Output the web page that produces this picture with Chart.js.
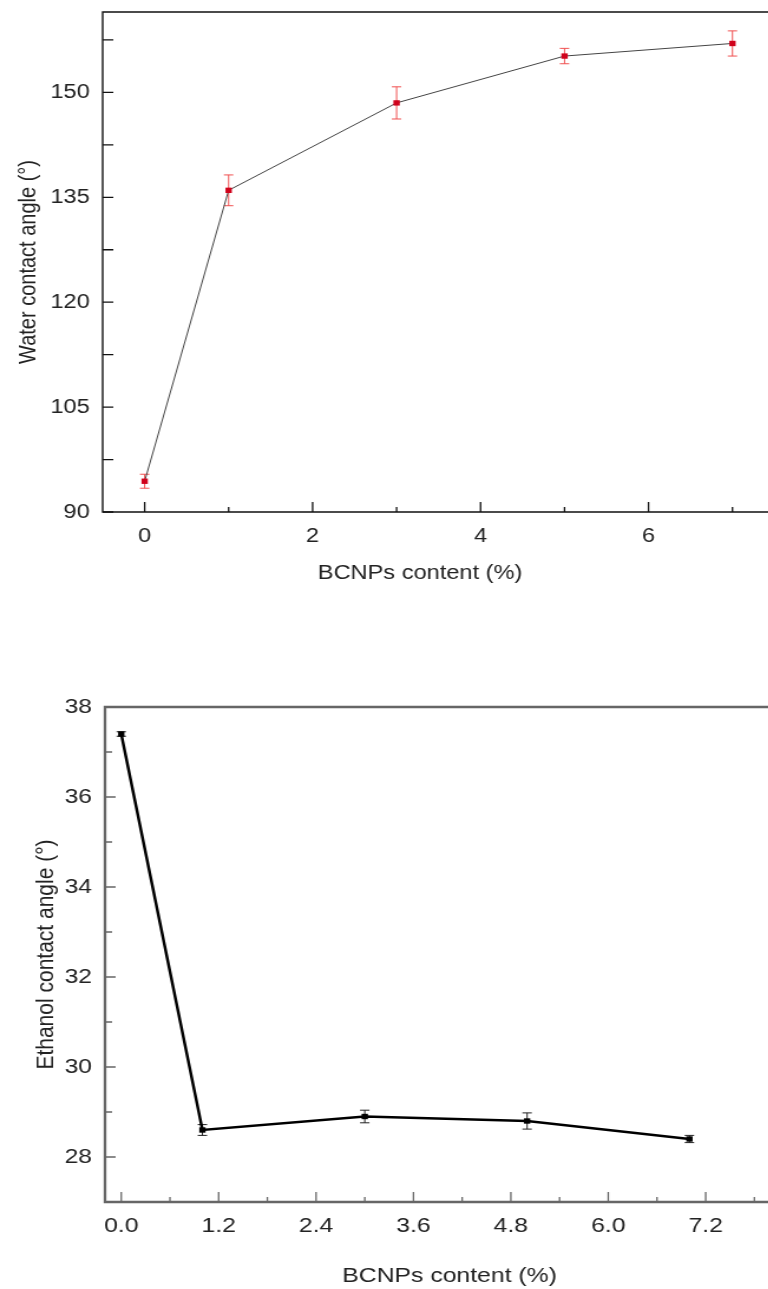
<!DOCTYPE html>
<html>
<head>
<meta charset="utf-8">
<script src="https://cdn.jsdelivr.net/npm/chart.js@4.4.0/dist/chart.umd.min.js"></script>
<style>
  html, body { margin: 0; padding: 0; background: #fff; overflow: hidden; }
  /* the source figure is stretched sideways, so the canvases are too */
  canvas { position: absolute; left: 0; transform: scaleX(1.18); transform-origin: 0 0; }
  #waterChart { top: 0; }
  #ethanolChart { top: 600px; }
</style>
</head>
<body>
<canvas id="waterChart" width="651" height="600"></canvas>
<!-- right part of the lower panel runs past the page edge, as in the source -->
<canvas id="ethanolChart" width="677" height="689"></canvas>
<script>
// BCNPs content (%)
var content = [0, 1, 3, 5, 7];

// top panel: water contact angle
var waterAngle = [94.4, 136.0, 148.5, 155.2, 157.0];
var waterError = [1.0, 2.2, 2.3, 1.1, 1.8];
var waterXTicks = [0, 1, 2, 3, 4, 5, 6, 7];
var waterYTicks = [90, 97.5, 105, 112.5, 120, 127.5, 135, 142.5, 150, 157.5];

// bottom panel: ethanol contact angle
var ethanolAngle = [37.4, 28.6, 28.9, 28.8, 28.4];
var ethanolError = [0.05, 0.12, 0.14, 0.18, 0.08];
var ethanolXTicks = [0, 0.6, 1.2, 1.8, 2.4, 3.0, 3.6, 4.2, 4.8, 5.4, 6.0, 6.6, 7.2, 7.8];
var ethanolYTicks = [27, 28, 29, 30, 31, 32, 33, 34, 35, 36, 37, 38];

var FONT = '"Liberation Sans", Arial, sans-serif';

function points(xs, ys) {
    return xs.map(function (x, i) { return { x: x, y: ys[i] }; });
}

// frame, inward ticks and error bars (one plugin per chart)
function framePlugin(o) {
    return {
        id: 'frame',
        beforeDatasetsDraw: function (chart) {
            var ctx = chart.ctx, xs = chart.scales.x, ys = chart.scales.y;
            ctx.save();
            ctx.strokeStyle = o.errColor;
            ctx.lineWidth = 1;
            o.errors.forEach(function (e, i) {
                var px = xs.getPixelForValue(content[i]);
                var top = ys.getPixelForValue(o.values[i] + e);
                var bot = ys.getPixelForValue(o.values[i] - e);
                ctx.beginPath();
                ctx.moveTo(px, top); ctx.lineTo(px, bot);
                ctx.moveTo(px - o.cap, top); ctx.lineTo(px + o.cap, top);
                ctx.moveTo(px - o.cap, bot); ctx.lineTo(px + o.cap, bot);
                ctx.stroke();
            });
            ctx.restore();
        },
        afterDraw: function (chart) {
            var ctx = chart.ctx, a = chart.chartArea;
            var xs = chart.scales.x, ys = chart.scales.y;
            ctx.save();
            ctx.strokeStyle = o.axisColor;
            ctx.lineWidth = o.axisWidth;
            ctx.beginPath();
            ctx.moveTo(chart.width, a.top);
            ctx.lineTo(a.left, a.top);
            ctx.lineTo(a.left, a.bottom);
            ctx.lineTo(chart.width, a.bottom);
            ctx.stroke();
            ctx.lineWidth = 1.3;
            ctx.beginPath();
            xs.ticks.forEach(function (t) {
                var px = xs.getPixelForValue(t.value);
                var len = o.majorX(t.value) ? 10 : 5;
                ctx.moveTo(px, a.bottom); ctx.lineTo(px, a.bottom - len);
            });
            ys.ticks.forEach(function (t) {
                var py = ys.getPixelForValue(t.value);
                var len = o.majorY(t.value) ? 9 : o.minorY;
                ctx.moveTo(a.left, py); ctx.lineTo(a.left + len, py);
            });
            ctx.stroke();
            ctx.restore();
        }
    };
}

function setTicks(list) {
    return function (scale) {
        scale.ticks = list.map(function (v) { return { value: v }; });
    };
}

function makeChart(id, cfg) {
    var ctx = document.getElementById(id).getContext('2d');
    return new Chart(ctx, {
        type: 'line',
        data: {
            datasets: [{
                data: points(content, cfg.values),
                borderColor: cfg.lineColor,
                borderWidth: cfg.lineWidth,
                backgroundColor: cfg.pointColor,
                pointBackgroundColor: cfg.pointColor,
                pointBorderColor: cfg.pointColor,
                pointStyle: 'rect',
                pointRadius: 3.8,
                pointBorderWidth: 0,
                tension: 0,
                fill: false,
                clip: false
            }]
        },
        options: {
            responsive: false,
            animation: false,
            devicePixelRatio: 1,
            layout: { padding: { top: cfg.padTop, left: 0, right: cfg.padRight, bottom: 0 } },
            plugins: {
                legend: { display: false },
                tooltip: { enabled: false }
            },
            scales: {
                x: {
                    type: 'linear',
                    min: cfg.xMin,
                    max: cfg.xMax,
                    afterBuildTicks: setTicks(cfg.xTicks),
                    afterFit: function (s) {
                        s.height = cfg.xHeight;
                        s.paddingLeft = 0; s.paddingRight = 0;
                    },
                    grid: { display: false, drawTicks: false },
                    border: { display: false },
                    ticks: {
                        autoSkip: false,
                        maxRotation: 0,
                        padding: 12,
                        color: '#222',
                        font: { family: FONT, size: cfg.fontSize },
                        callback: function (v) { return cfg.majorX(v) ? cfg.xFormat(v) : ''; }
                    },
                    title: {
                        display: true,
                        text: 'BCNPs content (%)',
                        color: '#222',
                        font: { family: FONT, size: cfg.fontSize },
                        padding: { top: 0, bottom: cfg.xTitlePad }
                    }
                },
                y: {
                    type: 'linear',
                    min: cfg.yMin,
                    max: cfg.yMax,
                    afterBuildTicks: setTicks(cfg.yTicks),
                    afterFit: function (s) {
                        s.width = cfg.yWidth;
                        s.paddingTop = 0; s.paddingBottom = 0;
                    },
                    grid: { display: false, drawTicks: false },
                    border: { display: false },
                    ticks: {
                        autoSkip: false,
                        padding: 11,
                        color: '#222',
                        font: { family: FONT, size: cfg.fontSize },
                        callback: function (v) { return cfg.majorY(v) ? String(v) : ''; }
                    },
                    title: {
                        display: true,
                        text: cfg.yTitle,
                        color: '#222',
                        font: { family: FONT, size: cfg.fontSize },
                        padding: { top: cfg.yTitlePad, bottom: 0 }
                    }
                }
            }
        },
        plugins: [framePlugin(cfg)]
    });
}

document.addEventListener('DOMContentLoaded', function () {
    makeChart('waterChart', {
        values: waterAngle,
        errors: waterError,
        xTicks: waterXTicks,
        yTicks: waterYTicks,
        xMin: -0.5, xMax: 7.06,
        yMin: 90, yMax: 161.5,
        majorX: function (v) { return v % 2 === 0; },
        majorY: function (v) { return (v - 90) % 15 === 0; },
        minorY: 9,
        xFormat: function (v) { return String(v); },
        yTitle: 'Water contact angle (°)',
        lineColor: '#444',
        lineWidth: 1,
        pointColor: '#d0021b',
        errColor: '#f05050',
        cap: 4,
        axisColor: '#111',
        axisWidth: 1.4,
        padTop: 12,
        padRight: 26,
        xHeight: 88,
        yWidth: 87,
        fontSize: 20,
        xTitlePad: 15,
        yTitlePad: 12
    });

    makeChart('ethanolChart', {
        values: ethanolAngle,
        errors: ethanolError,
        xTicks: ethanolXTicks,
        yTicks: ethanolYTicks,
        xMin: -0.2, xMax: 8.29,
        yMin: 27, yMax: 38,
        majorX: function (v) { return Math.round(v / 0.6) % 2 === 0; },
        majorY: function (v) { return v % 2 === 0; },
        minorY: 6,
        xFormat: function (v) { return v.toFixed(1); },
        yTitle: 'Ethanol contact angle (°)',
        lineColor: '#000',
        lineWidth: 2.5,
        pointColor: '#000',
        errColor: '#222',
        cap: 4,
        axisColor: '#666',
        axisWidth: 2.3,
        padTop: 107,
        padRight: 0,
        xHeight: 87,
        yWidth: 89,
        fontSize: 21,
        xTitlePad: 0,
        yTitlePad: 27
    });
});
</script>
</body>
</html>
